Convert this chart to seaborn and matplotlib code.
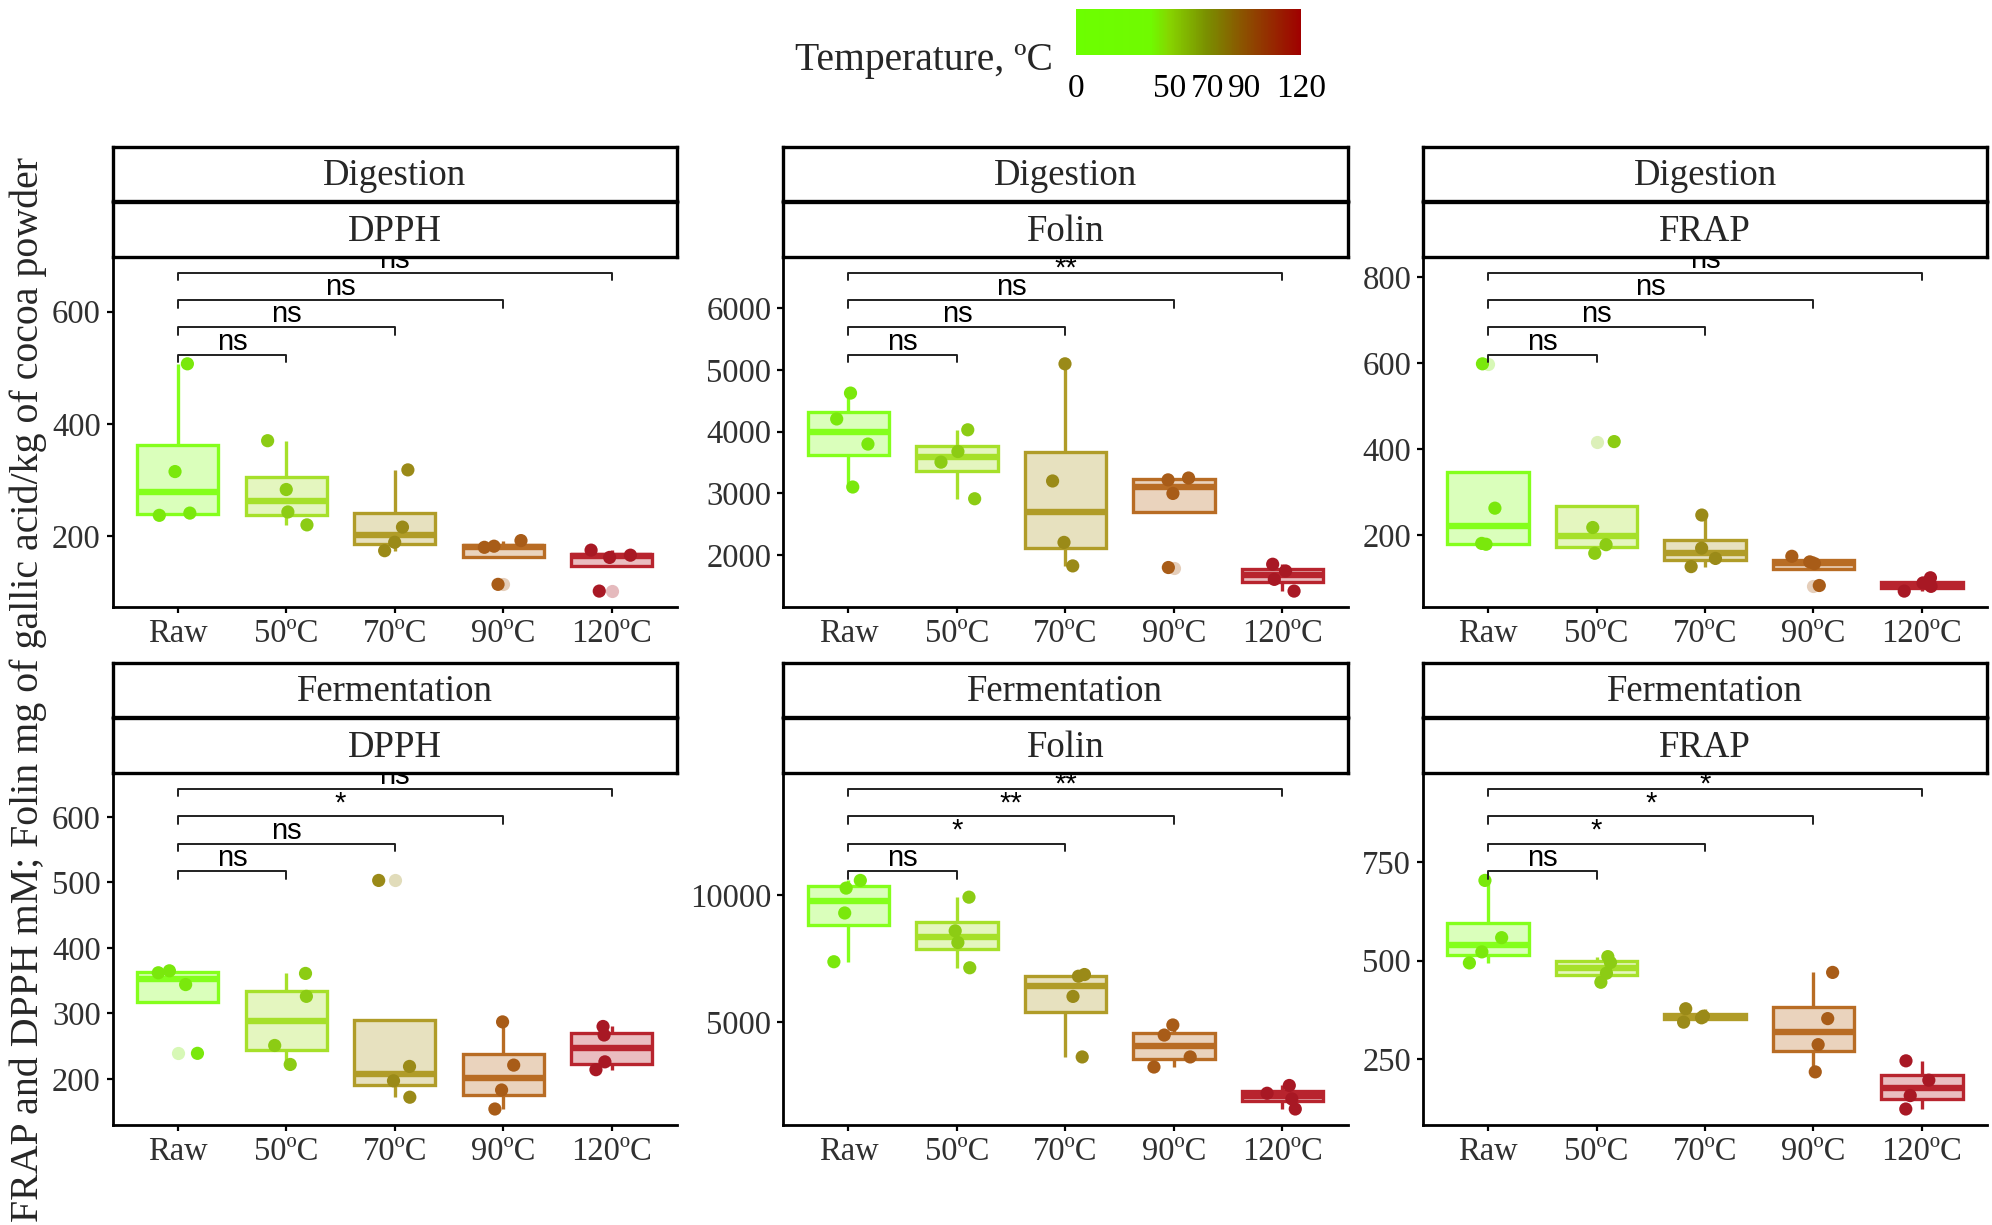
"""
Antioxidant capacity of cocoa powder by roasting temperature,
faceted by process (digestion / fermentation) and assay.
"""

import numpy as np
import pandas as pd
import matplotlib
matplotlib.use("Agg")
import matplotlib.pyplot as plt
import seaborn as sns
from matplotlib.colors import LinearSegmentedColormap, Normalize, to_rgb
from matplotlib.cm import ScalarMappable
from matplotlib.ticker import MultipleLocator

temps = ["Raw", "50ºC", "70ºC", "90ºC", "120ºC"]
temp_values = [0, 50, 70, 90, 120]
processes = ["Digestion", "Fermentation"]
assays = ["DPPH", "Folin", "FRAP"]

# four replicates per temperature, in the order of `temps`
digestion_dpph = [[237, 241, 315, 507], [220, 243, 283, 370], [174, 189, 216, 318],
                  [114, 180, 182, 192], [102, 162, 166, 175]]
digestion_folin = [[3104, 3800, 4207, 4626], [2914, 3507, 3679, 4031], [1826, 2207, 3202, 5100],
                   [1800, 3000, 3220, 3250], [1418, 1608, 1744, 1853]]
digestion_frap = [[178, 180, 262, 598], [157, 177, 217, 417], [126, 145, 169, 246],
                  [82, 133, 137, 150], [69, 80, 88, 100]]
fermentation_dpph = [[239, 344, 362, 365], [222, 251, 326, 361], [172, 197, 219, 503],
                     [154, 183, 221, 287], [214, 226, 267, 280]]
fermentation_folin = [[7375, 9288, 10265, 10566], [7138, 8128, 8587, 9909], [3638, 6014, 6806, 6873],
                      [3242, 3638, 4497, 4893], [1595, 1991, 2213, 2518]]
fermentation_frap = [[494, 522, 558, 703], [445, 468, 495, 510], [344, 355, 359, 378],
                     [218, 287, 353, 470], [124, 158, 197, 246]]

# Raw vs 50, 70, 90, 120 ºC
signif_digestion_dpph = ["ns", "ns", "ns", "ns"]
signif_digestion_folin = ["ns", "ns", "ns", "**"]
signif_digestion_frap = ["ns", "ns", "ns", "ns"]
signif_fermentation_dpph = ["ns", "ns", "*", "ns"]
signif_fermentation_folin = ["ns", "*", "**", "**"]
signif_fermentation_frap = ["ns", "*", "*", "*"]

y_tick_steps = [200, 1000, 200, 100, 5000, 250]

panels = [
    ("Digestion", "DPPH", digestion_dpph, signif_digestion_dpph),
    ("Digestion", "Folin", digestion_folin, signif_digestion_folin),
    ("Digestion", "FRAP", digestion_frap, signif_digestion_frap),
    ("Fermentation", "DPPH", fermentation_dpph, signif_fermentation_dpph),
    ("Fermentation", "Folin", fermentation_folin, signif_fermentation_folin),
    ("Fermentation", "FRAP", fermentation_frap, signif_fermentation_frap),
]

edge_colors = ["#84FF1C", "#A6E02A", "#B09C28", "#B86C24", "#B8242E"]
point_colors = ["#7AE80C", "#8CCC14", "#9A8A18", "#A85C18", "#A81824"]
temp_cmap = LinearSegmentedColormap.from_list(
    "temp", [(0, "#6CFF00"), (40 / 120, "#70FA00"), (50 / 120, "#86D400"),
             (70 / 120, "#7A8E00"), (90 / 120, "#8C5000"), (1, "#A00000")])


def tint(color, alpha):
    c = np.array(to_rgb(color))
    return tuple(c * alpha + (1 - alpha))


sns.set_style("ticks")
plt.rcParams["font.family"] = ["Liberation Serif", "DejaVu Serif"]

W, H = 1992, 1225
fig = plt.figure(figsize=(W / 100, H / 100), dpi=100)


def px_box(x0, x1, y0, y1):
    return [x0 / W, 1 - y1 / H, (x1 - x0) / W, (y1 - y0) / H]


col_x = [(112.6, 676.8), (783.3, 1347.5), (1423, 1987)]
row_y = [(257, 607), (773, 1125)]
strip_y = [((147, 201), (202, 257)), ((663, 717), (718, 773))]

np.random.seed(7)

for i, (process, assay, values, signif) in enumerate(panels):
    r, c = divmod(i, 3)
    ax = fig.add_axes(px_box(*col_x[c], *row_y[r]))
    df = pd.DataFrame([(t, v) for t, vals in zip(temps, values) for v in vals],
                      columns=["temp", "value"])

    for t, edge, pt in zip(temps, edge_colors, point_colors):
        sns.boxplot(data=df[df["temp"] == t], x="temp", y="value", order=temps,
                    color=tint(edge, 0.3), linecolor=edge, linewidth=2.4,
                    saturation=1, width=0.75, showcaps=False,
                    medianprops={"linewidth": 4.6},
                    flierprops={"marker": "o", "markerfacecolor": tint(pt, 0.3),
                                "markeredgecolor": "none", "markersize": 9.5},
                    ax=ax)
    sns.stripplot(data=df, x="temp", y="value", order=temps, hue="temp",
                  hue_order=temps, palette=point_colors, jitter=0.2, size=9.5,
                  linewidth=0, legend=False, ax=ax, zorder=4)

    # y range with room for the comparison brackets
    lo, hi = df["value"].min(), df["value"].max()
    span = hi - lo
    top = hi + 0.4 * span
    pad = 0.05 * (top - lo)
    ax.set_ylim(lo - pad, top + pad)
    ax.set_xlim(-0.6, 4.6)
    tip = 0.021 * (top - lo + 2 * pad)

    for k, lab in enumerate(signif):
        yb = hi + span * (0.04 + 0.12 * k)
        ax.plot([0, 0, k + 1, k + 1], [yb - tip, yb, yb, yb - tip],
                color="#202020", lw=1.4, zorder=5, clip_on=False)
        if lab == "ns":
            off = 5
        else:
            off = -4 if k == len(signif) - 1 else 5
        ax.annotate(lab, xy=((k + 1) / 2, yb), xytext=(0, off),
                    textcoords="offset pixels", ha="center", va="baseline",
                    fontsize=21, family="Liberation Sans", color="black", zorder=6)

    ax.yaxis.set_major_locator(MultipleLocator(y_tick_steps[i]))
    ax.set_xlabel("")
    ax.set_ylabel("")
    sns.despine(ax=ax)
    for side in ["left", "bottom"]:
        ax.spines[side].set_linewidth(2.0)
        ax.spines[side].set_color("black")
    ax.tick_params(length=4.5, width=1.6, color="black", labelsize=23.5,
                   labelcolor="#303030", pad=4)

    # facet strips
    for (y0, y1), label in zip(strip_y[r], [process, assay]):
        sax = fig.add_axes(px_box(*col_x[c], y0, y1))
        sax.set_xticks([])
        sax.set_yticks([])
        sax.set_facecolor("white")
        for sp in sax.spines.values():
            sp.set_linewidth(2.4)
            sp.set_color("black")
        sax.text(0.5, 0.46, label, ha="center", va="center", fontsize=26.5,
                 transform=sax.transAxes)

fig.text(28 / W, 1 - 690 / H,
         "FRAP and DPPH mM; Folin mg of gallic acid/kg of cocoa powder",
         rotation=90, ha="center", va="center", fontsize=28.7)

# temperature colour bar
cax = fig.add_axes(px_box(1076, 1301, 9, 55))
cb = fig.colorbar(ScalarMappable(norm=Normalize(0, 120), cmap=temp_cmap),
                  cax=cax, orientation="horizontal")
cb.set_ticks(temp_values)
cb.outline.set_visible(False)
cax.tick_params(axis="x", direction="in", length=7, width=1.2, color="white",
                top=True, bottom=True, labelsize=24, pad=13, labelcolor="black")
fig.text(1053 / W, 1 - 70 / H, "Temperature, ºC", ha="right", va="baseline",
         fontsize=28.5)

fig.savefig("out.png", dpi=100)
